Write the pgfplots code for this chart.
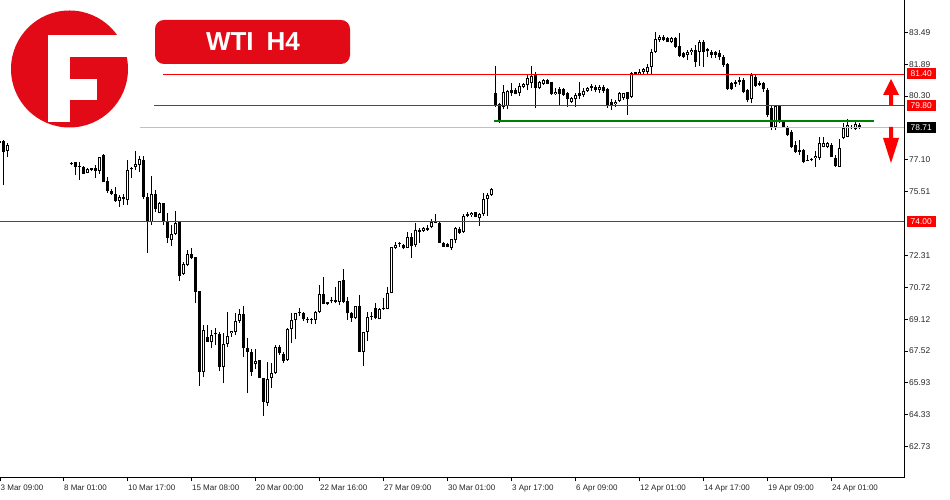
\documentclass[border=0pt]{standalone}
\usepackage{pgfplots}
\pgfplotsset{compat=1.18}
\usepackage{pgfplotstable}
\usepackage{fontspec}
\setmainfont{Liberation Sans}
\definecolor{logored}{RGB}{226,10,23}
\definecolor{lvlred}{RGB}{255,0,0}
\definecolor{lvlgreen}{RGB}{0,128,0}
\definecolor{curgray}{RGB}{192,192,192}

\pgfplotstableread{
k o h l c
-1 78.04 78.09 77.84 77.94
0 78.04 78.09 75.84 77.51
1 77.56 77.94 77.26 77.84
17 76.96 76.98 76.84 76.90
18 76.98 76.99 76.34 76.73
19 76.78 76.99 76.09 76.74
20 76.73 76.79 76.38 76.39
21 76.46 76.71 76.43 76.64
22 76.69 76.71 76.54 76.59
23 76.68 76.84 76.17 76.56
24 76.56 77.26 76.38 77.26
25 77.34 77.38 75.97 76.00
26 76.04 76.22 75.45 75.54
27 75.55 75.64 75.34 75.39
28 75.37 75.72 75.00 75.04
29 75.05 75.34 74.75 75.25
30 75.22 75.39 74.85 75.12
31 75.11 77.09 74.84 76.59
32 76.63 76.76 76.17 76.62
33 76.76 77.54 76.59 76.89
34 76.84 77.31 76.48 77.13
35 77.09 77.31 75.12 75.22
36 75.25 75.42 72.45 74.00
37 74.00 76.29 73.84 75.39
38 75.39 75.59 74.50 74.62
39 74.45 75.00 74.42 74.92
40 74.95 74.95 73.84 74.00
41 74.00 74.45 72.92 73.17
42 73.08 73.84 72.80 73.37
43 73.38 74.54 73.34 73.92
44 73.97 73.97 71.05 71.28
45 71.38 72.00 71.33 71.88
46 71.83 72.58 71.78 72.38
47 72.38 72.67 72.12 72.17
48 72.25 72.25 69.94 70.49
49 70.54 70.54 65.77 66.49
50 66.49 68.83 66.24 68.57
51 68.24 68.83 67.99 67.99
52 67.99 68.57 67.66 68.32
53 68.36 68.66 67.82 68.35
54 68.37 68.49 66.52 66.71
55 66.71 68.41 65.90 67.87
56 67.87 69.49 67.71 68.27
57 68.41 68.53 68.24 68.53
58 68.49 69.41 68.32 69.03
59 69.03 69.61 68.94 69.38
60 69.38 69.78 67.21 67.66
61 67.69 68.16 65.40 67.49
62 67.49 67.62 66.27 66.49
63 66.86 67.62 66.61 67.02
64 67.07 67.07 66.16 66.16
65 66.16 66.16 64.28 64.98
66 64.93 66.99 64.77 66.12
67 66.16 66.91 65.65 66.41
68 66.41 67.82 66.37 67.71
69 67.71 67.82 67.32 67.41
70 67.36 67.49 66.91 67.04
71 67.07 68.66 67.04 68.61
72 68.61 69.44 67.91 69.08
73 69.08 69.44 68.11 69.41
74 69.41 69.66 69.28 69.49
75 69.41 69.49 69.04 69.11
76 69.08 69.24 68.94 69.07
77 69.08 69.19 68.86 69.09
78 69.08 69.53 68.86 69.49
79 69.49 70.83 69.41 70.36
80 70.36 71.25 69.86 69.86
81 69.86 69.98 69.84 69.96
82 70.08 70.24 69.91 70.01
83 70.08 70.72 69.91 69.99
84 69.99 71.05 69.83 71.05
85 71.08 71.63 69.91 69.99
86 70.03 70.24 69.08 69.41
87 69.41 69.49 68.99 69.16
88 69.16 69.78 69.11 69.78
89 69.78 70.33 67.49 67.49
90 67.49 68.46 66.79 68.46
91 68.49 69.46 68.04 69.24
92 69.24 69.46 69.08 69.25
93 69.66 69.91 69.11 69.16
94 69.13 69.66 69.11 69.63
95 69.66 70.16 69.58 69.65
96 69.63 70.71 69.61 70.41
97 70.44 72.72 70.41 72.72
98 72.70 73.00 72.62 72.83
99 72.87 73.00 72.75 72.86
100 72.83 72.87 72.62 72.67
101 72.70 73.47 72.67 73.22
102 73.22 73.42 72.18 72.77
103 72.81 73.92 72.75 73.59
104 73.50 73.67 72.94 73.59
105 73.55 73.75 73.50 73.67
106 73.70 73.84 73.55 73.59
107 73.72 74.12 73.67 74.00
108 74.00 74.39 73.92 73.92
109 73.92 74.00 72.95 72.95
110 72.95 73.00 72.75 72.75
111 72.88 72.92 72.72 72.75
112 72.67 73.12 72.58 73.12
113 73.08 73.75 72.92 73.67
114 73.62 73.75 73.38 73.45
115 73.50 74.37 73.45 74.29
116 74.29 74.50 74.25 74.37
117 74.34 74.50 74.25 74.45
118 74.47 74.50 74.22 74.25
119 74.17 74.42 73.79 74.37
120 74.37 75.42 74.29 75.14
121 75.14 75.45 74.29 75.34
122 75.34 75.67 75.30 75.64
123 80.46 81.80 79.76 79.85
124 79.90 79.96 78.96 79.01
125 79.76 80.85 79.63 80.51
126 79.80 80.60 79.63 80.56
127 80.60 80.93 80.30 80.43
128 80.60 80.68 80.38 80.40
129 80.46 80.93 80.30 80.80
130 80.76 80.96 80.68 80.90
131 80.85 81.35 80.60 81.19
132 80.93 81.80 80.68 81.30
133 81.35 81.52 79.68 80.68
134 80.68 81.07 80.63 81.02
135 80.90 81.15 80.85 81.10
136 81.08 81.13 80.90 80.92
137 81.02 81.02 80.35 80.38
138 80.38 80.68 80.35 80.51
139 80.65 80.76 79.80 80.38
140 80.63 80.68 80.30 80.35
141 80.43 80.51 79.76 80.13
142 80.01 80.26 79.96 80.18
143 80.13 80.43 79.76 80.35
144 80.43 81.02 80.13 80.30
145 80.35 80.68 80.26 80.56
146 80.56 80.76 80.51 80.71
147 80.71 80.90 80.56 80.80
148 80.76 80.85 80.51 80.60
149 80.60 80.85 80.46 80.76
150 80.76 80.85 80.46 80.55
151 80.63 80.68 79.71 79.80
152 80.01 80.13 79.60 79.85
153 79.88 80.10 79.76 80.01
154 80.06 80.51 79.98 80.46
155 80.18 80.46 80.10 80.43
156 80.51 80.51 79.35 80.13
157 80.26 81.52 80.18 81.43
158 81.40 81.52 81.35 81.49
159 81.40 81.64 81.35 81.52
160 81.49 81.72 81.39 81.64
161 81.52 81.89 81.39 81.77
162 81.77 82.65 81.35 82.52
163 82.49 83.52 82.44 83.15
164 83.10 83.35 83.02 83.24
165 83.27 83.35 83.05 83.10
166 83.19 83.27 82.99 83.02
167 82.99 83.27 82.94 83.19
168 83.19 83.27 82.72 82.77
169 82.82 83.44 82.27 82.32
170 82.44 82.52 82.19 82.27
171 82.35 82.60 82.10 82.52
172 82.49 82.69 82.35 82.60
173 82.60 82.85 81.77 82.02
174 82.52 83.10 81.82 83.02
175 82.99 83.10 81.77 82.52
176 82.55 82.72 82.27 82.65
177 82.52 82.60 82.19 82.35
178 82.49 82.55 82.22 82.35
179 82.44 82.60 82.10 82.27
180 82.27 82.35 81.77 81.85
181 81.89 81.94 80.60 80.65
182 80.93 81.02 80.60 80.65
183 81.02 81.10 80.76 80.89
184 81.10 81.27 80.85 80.98
185 81.10 81.19 80.43 80.51
186 80.60 80.63 79.98 80.10
187 80.15 81.43 79.93 81.35
188 81.26 81.39 80.76 80.81
189 80.96 81.05 80.78 80.85
190 80.93 81.02 80.50 80.63
191 80.60 80.68 79.26 79.35
192 79.68 79.80 78.59 78.73
193 78.73 79.85 78.59 79.80
194 79.80 79.85 78.96 79.01
195 79.01 79.10 78.68 78.73
196 78.76 78.80 78.29 78.34
197 78.51 78.60 77.68 77.73
198 77.84 78.06 77.43 77.51
199 77.59 78.09 77.34 77.51
200 77.59 77.63 76.96 77.01
201 77.09 77.34 77.06 77.06
202 77.09 77.18 77.04 77.08
203 77.18 77.54 76.73 77.29
204 77.18 78.26 77.09 77.93
205 77.76 78.23 77.73 77.96
206 77.76 78.01 77.68 77.93
207 77.84 77.93 77.26 77.26
208 77.18 77.34 76.76 76.79
209 76.76 78.13 76.73 77.68
210 78.18 78.93 78.13 78.68
211 78.26 79.13 78.23 78.85
212 78.68 78.85 78.63 78.76
213 78.63 78.98 78.59 78.88
214 78.85 78.93 78.63 78.68
215 78.73 78.74 78.71 78.71
}\candles

\begin{document}
\begin{tikzpicture}
\useasboundingbox (0,0) rectangle (950pt,500pt);
\fill[white] (0,0) rectangle (950pt,500pt);
\begin{axis}[
  at={(0pt,22pt)}, anchor=south west,
  scale only axis, width=904pt, height=478pt,
  xmin=-0.85, xmax=225.15, ymin=61.16, ymax=85.108,
  axis x line*=bottom, axis y line*=right,
  axis line style={black, line width=1pt},
  tick align=outside,
  major tick length=3.5pt,
  tick style={black, line width=0.8pt},
  xtick={-0.85,15,31,47,63,79,95,111,127,143,159,175,191,207},
  xticklabels={3 Mar 09:00, 8 Mar 01:00, 10 Mar 17:00, 15 Mar 08:00, 20 Mar 00:00, 22 Mar 16:00, 27 Mar 09:00, 30 Mar 01:00, 3 Apr 17:00, 6 Apr 09:00, 12 Apr 01:00, 14 Apr 17:00, 19 Apr 09:00, 24 Apr 01:00},
  xticklabel style={anchor=north west, inner sep=0pt, xshift=0.5pt, yshift=-3pt, font=\fontsize{8}{9}\selectfont, text=black!85},
  ytick={62.73,64.33,65.93,67.52,69.12,70.72,72.31,75.51,77.10,80.30,81.89,83.49},
  /pgf/number format/assume math mode=true,
  /pgf/number format/fixed,
  /pgf/number format/fixed zerofill,
  /pgf/number format/precision=2,
  yticklabel style={anchor=west, inner sep=0pt, xshift=1.5pt, font=\fontsize{8.4}{9}\selectfont, text=black!85},
]
% wicks
\addplot[draw=none, mark=none, error bars/.cd, y dir=plus, y explicit, error mark=none,
  error bar style={draw=black, line width=1pt}]
  table[x=k, y=l, y error expr={\thisrow{h}-\thisrow{l}}] {\candles};
% bodies
\addplot[draw=none, mark=none, error bars/.cd, y dir=plus, y explicit, error mark=none,
  error bar style={draw=black, line width=3pt}]
  table[x=k, y expr={min(\thisrow{o},\thisrow{c})}, y error expr={max(abs(\thisrow{c}-\thisrow{o}),0.05)}] {\candles};
% hollow interior of bullish candles
\addplot[draw=none, mark=none, error bars/.cd, y dir=plus, y explicit, error mark=none,
  error bar style={draw=white, line width=1pt}]
  table[x=k, y expr={\thisrow{o}+0.05}, y error expr={max(\thisrow{c}-\thisrow{o}-0.1,0)}] {\candles};
% levels
\addplot[lvlred, line width=1pt] coordinates {(-0.85,74.00) (225.15,74.00)};
\addplot[lvlred, line width=1pt] coordinates {(39.9,81.40) (225.15,81.40)};
\addplot[lvlred, line width=1pt] coordinates {(37.65,79.80) (225.15,79.80)};
\addplot[curgray, line width=1pt] coordinates {(34.15,78.71) (225.15,78.71)};
\addplot[lvlgreen, line width=2pt] coordinates {(122.65,79.06) (217.65,79.06)};
\end{axis}
\begin{scope}[shift={(0pt,500pt)}, x=1pt, y=-1pt]
  % logo
  \fill[logored] (69.5,69) circle[radius=58.5pt];
  \fill[white] (48,35) rectangle (70,122);
  \fill[white] (48,35) rectangle (132,57);
  \fill[white] (70,79) rectangle (97,100);
  % title
  \fill[logored, rounded corners=9pt] (155,20) rectangle (350,64);
  \node[text=white, inner sep=0pt, font=\bfseries\fontsize{26}{30}\selectfont] at (253,41.7) {WTI\hspace{13pt}H4};
  % arrows
  \fill[lvlred] (891,79) -- (899,95) -- (893,95) -- (893,106) -- (889,106) -- (889,95) -- (883,95) -- cycle;
  \fill[lvlred] (889,127) -- (893,127) -- (893,138) -- (899,138) -- (891,163) -- (883,138) -- (889,138) -- cycle;
  % price boxes
  \node[fill=lvlred, text=white, anchor=west, inner sep=0pt, minimum width=29pt, minimum height=11pt, font=\fontsize{8.4}{9}\selectfont] at (906.5,73.3) {81.40};
  \node[fill=lvlred, text=white, anchor=west, inner sep=0pt, minimum width=29pt, minimum height=11pt, font=\fontsize{8.4}{9}\selectfont] at (906.5,106) {79.80};
  \node[fill=black, text=white, anchor=west, inner sep=0pt, minimum width=29pt, minimum height=11pt, font=\fontsize{8.4}{9}\selectfont] at (906.5,127.3) {78.71};
  \node[fill=lvlred, text=white, anchor=west, inner sep=0pt, minimum width=29pt, minimum height=11pt, font=\fontsize{8.4}{9}\selectfont] at (906.5,221.7) {74.00};
\end{scope}
\end{tikzpicture}
\end{document}
